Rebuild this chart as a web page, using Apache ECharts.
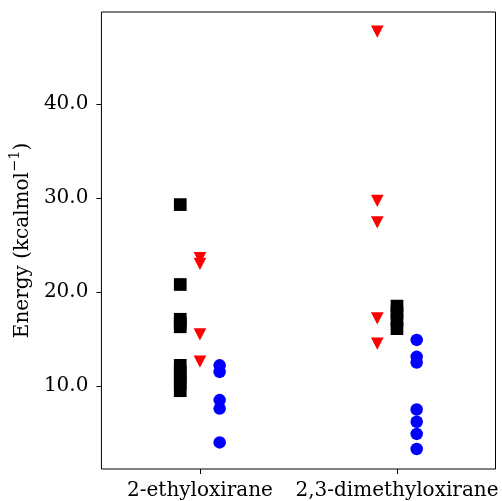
<!DOCTYPE html>
<html>
<head>
<meta charset="utf-8">
<script src="https://cdn.jsdelivr.net/npm/echarts@6/dist/echarts.min.js"></script>
<style>
  html, body { margin: 0; padding: 0; background: #fff; }
  #chart { width: 502px; height: 501px; }
</style>
</head>
<body>
<div id="chart"></div>
<script>
// categories on the x axis
const categories = ['2-ethyloxirane', '2,3-dimethyloxirane'];
const yTicks = [10, 20, 30, 40];

// energies per category (kcal/mol)
const blackValues = [
    [29.3, 20.8, 17.1, 16.7, 16.3, 12.2, 11.5, 10.9, 10.3, 9.5],
    [18.5, 17.8, 17.0, 16.1],
];
const redValues = [
    [23.6, 23.0, 15.5, 12.6],
    [47.7, 29.7, 27.4, 17.2, 14.5],
];
const blueValues = [
    [12.2, 11.5, 8.5, 7.6, 4.0],
    [14.9, 13.1, 12.5, 7.5, 6.2, 4.9, 3.3],
];

// horizontal shift of each marker group inside a category
const blackShift = [-0.1, 0];
const redShift = [0, -0.1];
const blueShift = [0.1, 0.1];

function toPoints(values, shift) {
    const pts = [];
    values.forEach((list, ci) => {
        list.forEach(v => pts.push([ci + shift[ci], v]));
    });
    return pts;
}

const FONT = 'DejaVu Serif';

const chart = echarts.init(document.getElementById('chart'));

const option = {
    animation: false,
    grid: {
        left: 101,
        right: 6.5,
        top: 12,
        bottom: 32,
        show: true,
        borderColor: '#000',
        borderWidth: 1,
    },
    xAxis: {
        type: 'value',
        min: -0.5,
        max: 1.5,
        splitLine: { show: false },
        axisLine: { show: false, onZero: false },
        axisTick: {
            show: true,
            length: 5,
            customValues: [0, 1],
            lineStyle: { color: '#000', width: 1 },
        },
        axisLabel: {
            customValues: [0, 1],
            formatter: v => categories[Math.round(v)],
            color: '#000',
            fontFamily: FONT,
            fontSize: 20,
            margin: 12,
        },
    },
    yAxis: {
        type: 'value',
        min: 1.17,
        max: 49.79,
        splitLine: { show: false },
        axisLine: { show: false, onZero: false },
        axisTick: {
            show: true,
            length: 5,
            customValues: yTicks,
            lineStyle: { color: '#000', width: 1 },
        },
        axisLabel: {
            customValues: yTicks,
            formatter: v => v.toFixed(1),
            color: '#000',
            fontFamily: FONT,
            fontSize: 20,
            margin: 13,
        },
        name: '{a|Energy (kcalmol}{s|−1}{a|)}',
        nameLocation: 'middle',
        nameRotate: 90,
        nameGap: 66,
        nameTextStyle: {
            rich: {
                a: { fontFamily: FONT, fontSize: 20, color: '#000', verticalAlign: 'bottom', lineHeight: 25 },
                s: { fontFamily: FONT, fontSize: 14.5, color: '#000', verticalAlign: 'top', lineHeight: 25 },
            },
        },
    },
    series: [
        {
            name: 'black',
            type: 'scatter',
            symbol: 'rect',
            symbolSize: 12.7,
            itemStyle: { color: '#000', opacity: 1 },
            data: toPoints(blackValues, blackShift),
        },
        {
            name: 'red',
            type: 'scatter',
            symbol: 'triangle',
            symbolRotate: 180,
            symbolSize: [12.7, 12.3],
            itemStyle: { color: '#ff0000', opacity: 1 },
            data: toPoints(redValues, redShift),
        },
        {
            name: 'blue',
            type: 'scatter',
            symbol: 'circle',
            symbolSize: 12.5,
            itemStyle: { color: '#0000ff', opacity: 1 },
            data: toPoints(blueValues, blueShift),
        },
    ],
};

chart.setOption(option);
</script>
</body>
</html>
